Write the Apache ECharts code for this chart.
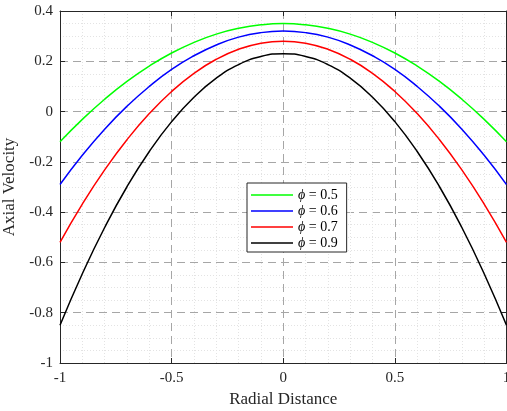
<!DOCTYPE html>
<html>
<head>
<meta charset="utf-8">
<script src="https://cdn.jsdelivr.net/npm/echarts@6/dist/echarts.min.js"></script>
<style>
  html, body { margin: 0; padding: 0; background: #fff; }
  #chart { width: 507px; height: 411px; }
</style>
</head>
<body>
<div id="chart"></div>
<script>
// radial positions and velocity readings
var radial = [-1, -0.9, -0.8, -0.7, -0.6, -0.5, -0.4, -0.3, -0.2, -0.1, 0,
              0.1, 0.2, 0.3, 0.4, 0.5, 0.6, 0.7, 0.8, 0.9, 1];
var phi05 = [-0.12, -0.031, 0.049, 0.120, 0.181, 0.233, 0.275, 0.308, 0.331, 0.345, 0.350,
             0.345, 0.331, 0.308, 0.275, 0.233, 0.181, 0.120, 0.049, -0.031, -0.12];
var phi06 = [-0.29, -0.174, -0.070, 0.021, 0.100, 0.168, 0.222, 0.265, 0.296, 0.314, 0.320,
             0.314, 0.296, 0.265, 0.222, 0.168, 0.100, 0.021, -0.070, -0.174, -0.29];
var phi07 = [-0.52, -0.368, -0.232, -0.112, -0.008, 0.080, 0.152, 0.208, 0.248, 0.272, 0.280,
             0.272, 0.248, 0.208, 0.152, 0.080, -0.008, -0.112, -0.232, -0.368, -0.52];
var phi09 = [-0.85, -0.645, -0.461, -0.299, -0.159, -0.040, 0.057, 0.133, 0.187, 0.219, 0.230,
             0.219, 0.187, 0.133, 0.057, -0.040, -0.159, -0.299, -0.461, -0.645, -0.85];
var names = ['0.5', '0.6', '0.7', '0.9'];
var colors = ['#00ff00', '#0000ff', '#ff0000', '#000000'];

var font = "'Liberation Serif', 'Times New Roman', serif";
var ink = '#262626';

function pairs(ys) {
  return radial.map(function (x, i) { return [x, ys[i]]; });
}

var myChart = echarts.init(document.getElementById('chart'));

var splitLine = { show: true, lineStyle: { color: '#a6a6a6', type: [8, 5], width: 1 } };
var minorSplit = { show: true, lineStyle: { color: '#e3e3e3', type: [1, 2], width: 1 } };

var option = {
  animation: false,
  backgroundColor: '#fff',
  textStyle: { fontFamily: font },
  grid: { left: 60, right: 0.5, top: 11, bottom: 48, outerBoundsMode: 'none', containLabel: false },
  legend: {
    orient: 'vertical',
    left: 247,
    top: 183,
    backgroundColor: '#fff',
    borderColor: ink,
    borderWidth: 1,
    borderRadius: 0,
    padding: [5, 9, 2, 4],
    icon: 'rect',
    itemWidth: 42,
    itemHeight: 1.6,
    itemGap: 2,
    itemTextGap: 5,
    formatter: function (n) { return '{i|\u03d5} = ' + n; },
    textStyle: {
      fontFamily: font, fontSize: 14, color: '#000', lineHeight: 14,
      rich: { i: { fontFamily: font, fontStyle: 'italic', fontSize: 14, color: '#000', lineHeight: 14 } }
    },
    data: names
  },
  xAxis: [{
    type: 'value', min: -1, max: 1, interval: 0.5,
    name: 'Radial Distance', nameLocation: 'middle', nameGap: 28,
    nameTextStyle: { fontFamily: font, fontSize: 17, color: ink },
    axisLine: { onZero: false, lineStyle: { color: ink, width: 1 } },
    axisTick: { inside: true, length: 5, lineStyle: { color: ink } },
    axisLabel: { fontFamily: font, fontSize: 15, color: ink, margin: 8 },
    splitLine: splitLine,
    minorTick: { show: false, splitNumber: 5 },
    minorSplitLine: minorSplit
  }, {
    type: 'value', min: -1, max: 1, interval: 0.5, position: 'top',
    axisLine: { show: true, onZero: false, lineStyle: { color: ink, width: 1 } },
    axisTick: { show: true, inside: true, length: 5, lineStyle: { color: ink } },
    axisLabel: { show: false }, splitLine: { show: false }
  }],
  yAxis: [{
    type: 'value', min: -1, max: 0.4, interval: 0.2,
    name: 'Axial Velocity', nameLocation: 'middle', nameGap: 33,
    nameTextStyle: { fontFamily: font, fontSize: 17, color: ink },
    axisLine: { show: true, onZero: false, lineStyle: { color: ink, width: 1 } },
    axisTick: { show: true, inside: true, length: 5, lineStyle: { color: ink } },
    axisLabel: { fontFamily: font, fontSize: 15, color: ink, margin: 7 },
    splitLine: splitLine,
    minorTick: { show: false, splitNumber: 4 },
    minorSplitLine: minorSplit
  }, {
    type: 'value', min: -1, max: 0.4, interval: 0.2, position: 'right',
    axisLine: { show: true, onZero: false, lineStyle: { color: ink, width: 1 } },
    axisTick: { show: true, inside: true, length: 5, lineStyle: { color: ink } },
    axisLabel: { show: false }, splitLine: { show: false }
  }],
  series: [phi05, phi06, phi07, phi09].map(function (ys, i) {
    return {
      name: names[i],
      type: 'line',
      smooth: true,
      symbol: 'none',
      data: pairs(ys),
      lineStyle: { color: colors[i], width: 1.5 },
      itemStyle: { color: colors[i] }
    };
  })
};

myChart.setOption(option);
</script>
</body>
</html>
